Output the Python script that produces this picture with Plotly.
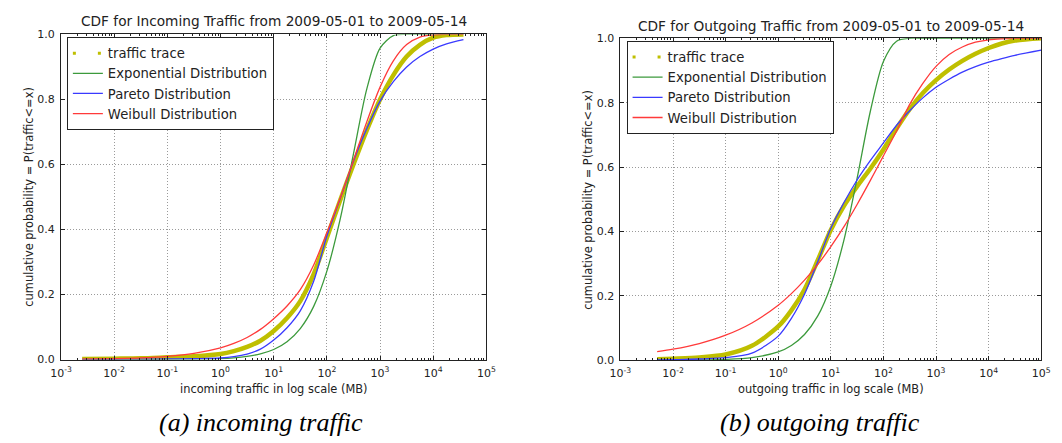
import plotly.graph_objects as go

# ---------------- data ----------------
# (a) incoming traffic
in_x = [0.0025, 0.01, 0.0316, 0.1, 0.316, 1, 1.78, 3.16, 5.62, 10, 17.8, 31.6, 56.2, 100,
        178, 316, 562, 1000, 1778, 3162, 5623, 10000, 17783, 37000]
in_trace = [0.002, 0.003, 0.004, 0.007, 0.010, 0.017, 0.026, 0.039, 0.058, 0.088, 0.128,
            0.180, 0.262, 0.375, 0.49, 0.60, 0.705, 0.80, 0.875, 0.932, 0.968, 0.99,
            0.998, 1.0]
in_expo = [0.0, 0.0, 0.0001, 0.0003, 0.001, 0.0032, 0.0056, 0.010, 0.0177, 0.031, 0.055,
           0.0955, 0.163, 0.272, 0.432, 0.633, 0.832, 0.958, 0.9965, 1.0, 1.0, 1.0, 1.0,
           1.0]
in_pareto = [0.001, 0.001, 0.0015, 0.002, 0.003, 0.005, 0.009, 0.017, 0.032, 0.060, 0.098,
             0.150, 0.24, 0.38, 0.495, 0.61, 0.71, 0.795, 0.855, 0.90, 0.932, 0.955,
             0.971, 0.984]
in_weibull = [0.0015, 0.003, 0.0052, 0.010, 0.019, 0.036, 0.0496, 0.068, 0.093, 0.126,
              0.165, 0.215, 0.29, 0.391, 0.496, 0.613, 0.731, 0.838, 0.919, 0.969, 0.992,
              0.9987, 1.0, 1.0]

# (b) outgoing traffic
out_x = [0.005, 0.01, 0.0316, 0.1, 0.316, 1, 1.78, 3.16, 5.62, 10, 17.8, 31.6, 56.2, 100,
         178, 316, 562, 1000, 1778, 3162, 5623, 10000, 17783, 31623, 100000]
out_trace = [0.003, 0.005, 0.009, 0.018, 0.045, 0.105, 0.155, 0.22, 0.31, 0.405, 0.48,
             0.54, 0.595, 0.655, 0.72, 0.78, 0.83, 0.87, 0.903, 0.93, 0.952, 0.97, 0.984,
             0.993, 1.0]
out_expo = [0.0001, 0.0003, 0.0008, 0.0026, 0.0083, 0.026, 0.046, 0.080, 0.137, 0.231,
            0.374, 0.565, 0.772, 0.928, 0.991, 1.0, 1.0, 1.0, 1.0, 1.0, 1.0, 1.0, 1.0,
            1.0, 1.0]
out_pareto = [0.001, 0.002, 0.004, 0.008, 0.022, 0.075, 0.13, 0.205, 0.305, 0.41, 0.49,
              0.56, 0.62, 0.675, 0.73, 0.775, 0.815, 0.848, 0.873, 0.895, 0.912, 0.926,
              0.937, 0.947, 0.963]
out_weibull = [0.0268, 0.0344, 0.0519, 0.0779, 0.116, 0.171, 0.207, 0.249, 0.297, 0.353,
               0.415, 0.484, 0.558, 0.635, 0.712, 0.795, 0.86, 0.913, 0.95, 0.973, 0.988,
               0.9955, 0.9987, 1.0, 1.0]

series_names = ["traffic trace", "Exponential Distribution", "Pareto Distribution",
                "Weibull Distribution"]
x_tick_vals = [1e-3, 1e-2, 1e-1, 1e0, 1e1, 1e2, 1e3, 1e4, 1e5]
x_tick_text = ["10<sup>-3</sup>", "10<sup>-2</sup>", "10<sup>-1</sup>", "10<sup>0</sup>",
               "10<sup>1</sup>", "10<sup>2</sup>", "10<sup>3</sup>", "10<sup>4</sup>",
               "10<sup>5</sup>"]
y_tick_vals = [0.0, 0.2, 0.4, 0.6, 0.8, 1.0]
titles = ["CDF for Incoming Traffic from 2009-05-01 to 2009-05-14",
          "CDF for Outgoing Traffic from 2009-05-01 to 2009-05-14"]
x_labels = ["incoming traffic in log scale (MB)", "outgoing traffic in log scale (MB)"]
y_label = "cumulative probability = P(traffic<=x)"
captions = ["(a) incoming traffic", "(b) outgoing traffic"]

# ---------------- styling ----------------
W, H = 1062, 443
FONT = "DejaVu Sans"
TXT = "#222222"
C_TRACE = "#bfbf00"
C_EXP = "#3c9a3c"
C_PAR = "#3a3aff"
C_WEI = "#ff3a3a"
colors = [C_TRACE, C_EXP, C_PAR, C_WEI]


def px(xp):
    return xp / W


def py(yp):
    return 1 - yp / H


fig = go.Figure()

panels = [
    dict(x=in_x, ys=[in_trace, in_expo, in_pareto, in_weibull], xa="x", ya="y", legend="legend"),
    dict(x=out_x, ys=[out_trace, out_expo, out_pareto, out_weibull], xa="x2", ya="y2", legend="legend2"),
]

for p in panels:
    for i, (ys, name, col) in enumerate(zip(p["ys"], series_names, colors)):
        if i == 0:
            fig.add_trace(go.Scatter(
                x=p["x"], y=ys, mode="lines", name=name, showlegend=False,
                line=dict(color=col, width=4.5, shape="spline", smoothing=0.8),
                xaxis=p["xa"], yaxis=p["ya"], legend=p["legend"]))
            # legend sample (dotted, as in the reference)
            fig.add_trace(go.Scatter(
                x=[None], y=[None], mode="lines", name=name,
                line=dict(color=col, width=3, dash="3px,22px"),
                xaxis=p["xa"], yaxis=p["ya"], legend=p["legend"]))
        else:
            fig.add_trace(go.Scatter(
                x=p["x"], y=ys, mode="lines", name=name,
                line=dict(color=col, width=1.3, shape="spline", smoothing=0.8),
                xaxis=p["xa"], yaxis=p["ya"], legend=p["legend"]))

minor_vals = [m * 10.0 ** k for k in range(-3, 5) for m in range(2, 10)]

xaxis_common = dict(
    type="log", range=[-3, 5], tickmode="array", tickvals=x_tick_vals, ticktext=x_tick_text,
    ticks="inside", ticklen=4, tickwidth=1, tickcolor=TXT, ticklabelstandoff=3,
    showline=True, linecolor=TXT, linewidth=1, mirror="ticks",
    showgrid=True, gridcolor="#9a9a9a", gridwidth=1, griddash="1px,2px",
    zeroline=False, tickfont=dict(family=FONT, size=11, color=TXT),
    minor=dict(tickmode="array", tickvals=minor_vals, ticks="inside", ticklen=2,
               tickwidth=1, tickcolor=TXT, showgrid=False),
)
yaxis_common = dict(
    range=[0, 1], tickmode="array", tickvals=y_tick_vals, tickformat=".1f",
    ticks="inside", ticklen=4, tickwidth=1, tickcolor=TXT, ticklabelstandoff=3,
    showline=True, linecolor=TXT, linewidth=1, mirror="ticks",
    showgrid=True, gridcolor="#9a9a9a", gridwidth=1, griddash="1px,2px",
    zeroline=False, tickfont=dict(family=FONT, size=11, color=TXT),
)

# axes frames (pixel positions from the reference)
L = dict(x0=51, x1=485, y0=29.3, y1=364.3)
R = dict(x0=621.7, x1=1051, y0=33.3, y1=365)

fig.update_layout(
    width=W, height=H,
    margin=dict(l=0, r=0, t=0, b=0),
    paper_bgcolor="white", plot_bgcolor="white",
    font=dict(family=FONT, color=TXT),
    xaxis=dict(domain=[px(L["x0"]), px(L["x1"])], anchor="y", **xaxis_common),
    yaxis=dict(domain=[py(L["y1"]), py(L["y0"])], anchor="x", **yaxis_common),
    xaxis2=dict(domain=[px(R["x0"]), px(R["x1"])], anchor="y2", **xaxis_common),
    yaxis2=dict(domain=[py(R["y1"]), py(R["y0"])], anchor="x2", **yaxis_common),
    legend=dict(x=px(57), y=py(32), xanchor="left", yanchor="top",
                bgcolor="white", bordercolor=TXT, borderwidth=1,
                font=dict(family=FONT, size=13.2, color=TXT), tracegroupgap=0),
    legend2=dict(x=px(628), y=py(36), xanchor="left", yanchor="top",
                 bgcolor="white", bordercolor=TXT, borderwidth=1,
                 font=dict(family=FONT, size=13.2, color=TXT), tracegroupgap=0),
    showlegend=True,
)

ann = []
ann.append(dict(text=titles[0], x=px((L["x0"] + L["x1"]) / 2), y=py(15), xanchor="center",
                yanchor="middle", font=dict(size=13.7)))
ann.append(dict(text=titles[1], x=px((R["x0"] + R["x1"]) / 2), y=py(21), xanchor="center",
                yanchor="middle", font=dict(size=13.7)))
ann.append(dict(text=x_labels[0], x=px((L["x0"] + L["x1"]) / 2), y=py(395), xanchor="center",
                yanchor="middle", font=dict(size=11.4)))
ann.append(dict(text=x_labels[1], x=px((R["x0"] + R["x1"]) / 2), y=py(395), xanchor="center",
                yanchor="middle", font=dict(size=11.4)))
ann.append(dict(text=y_label, x=px(18), y=py((L["y0"] + L["y1"]) / 2), xanchor="center",
                yanchor="middle", textangle=-90, font=dict(size=11.4)))
ann.append(dict(text=y_label, x=px(589), y=py((R["y0"] + R["y1"]) / 2), xanchor="center",
                yanchor="middle", textangle=-90, font=dict(size=11.4)))
ann.append(dict(text="<i>" + captions[0] + "</i>", x=px(255), y=py(429), xanchor="center",
                yanchor="middle", font=dict(family="Liberation Serif", size=26, color="black")))
ann.append(dict(text="<i>" + captions[1] + "</i>", x=px(825), y=py(429), xanchor="center",
                yanchor="middle", font=dict(family="Liberation Serif", size=26, color="black")))

for a in ann:
    a.update(xref="paper", yref="paper", showarrow=False)
    f = a.get("font", {})
    f.setdefault("family", FONT)
    f.setdefault("color", TXT)
    a["font"] = f
fig.update_layout(annotations=ann)

fig.write_html("out.html")
